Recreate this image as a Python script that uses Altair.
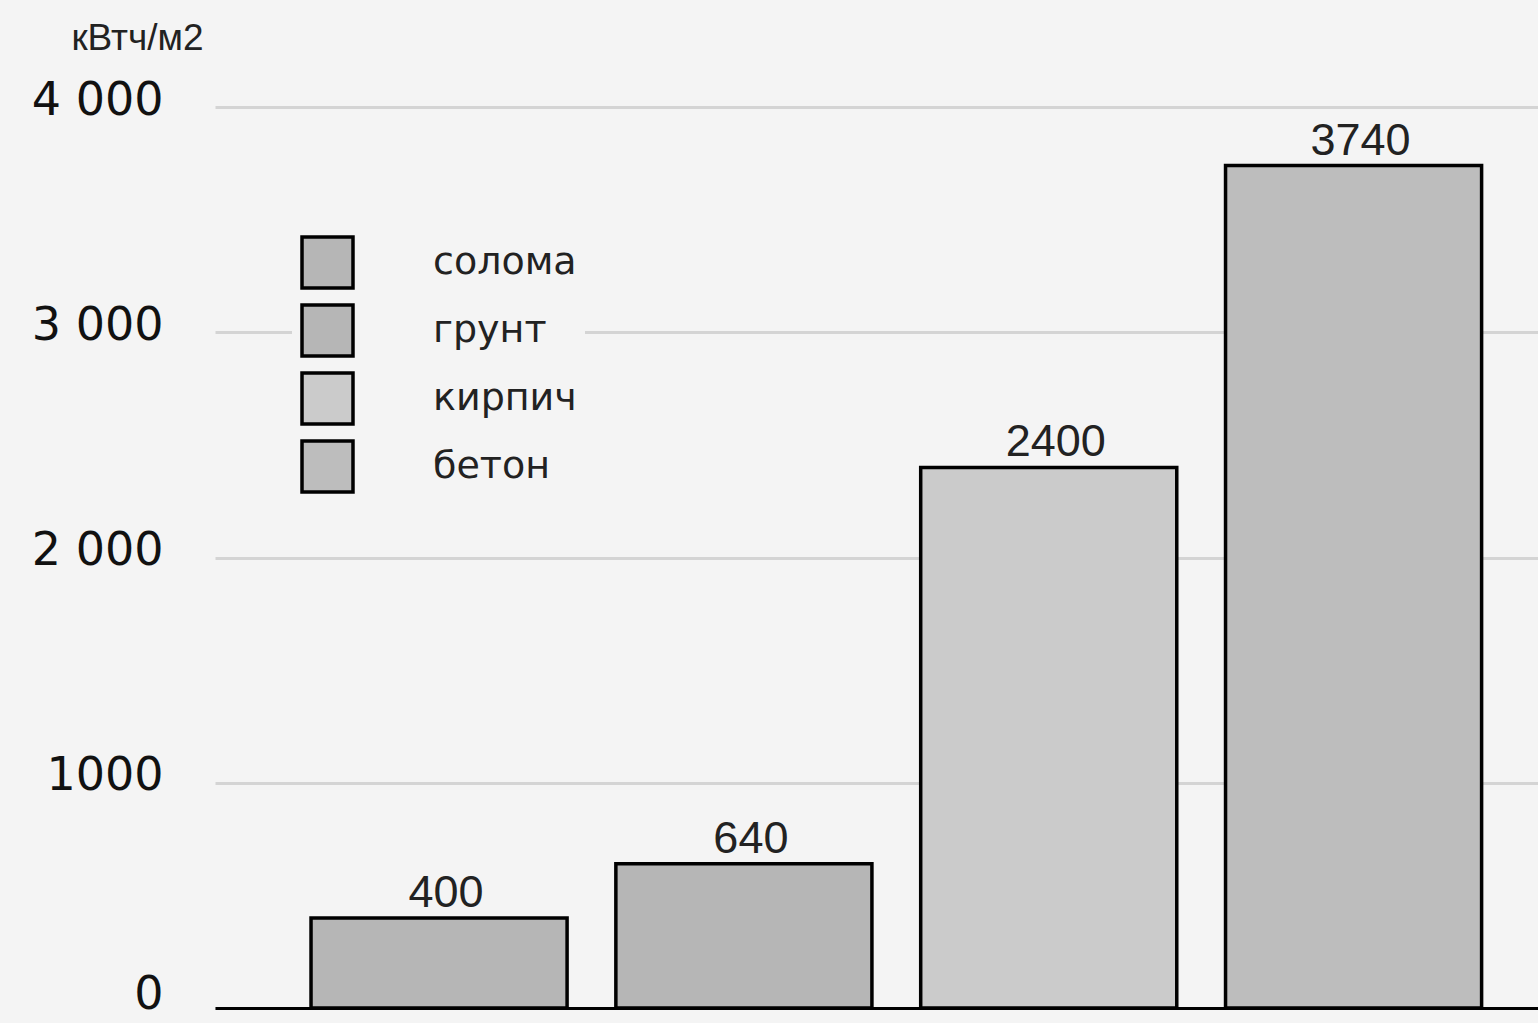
import altair as alt
import pandas as pd

materials = ["солома", "грунт", "кирпич", "бетон"]
values = [400, 640, 2400, 3740]
fills = ["#b6b6b6", "#b6b6b6", "#cbcbcb", "#bdbdbd"]
y_ticks = [0, 1000, 2000, 3000, 4000]
y_tick_labels = ["0", "1000", "2 000", "3 000", "4 000"]
unit_label = "кВтч/м2"

df = pd.DataFrame({"material": materials, "value": values})

label_expr = "''"
for v, lab in reversed(list(zip(y_ticks, y_tick_labels))):
    label_expr = f"datum.value == {v} ? '{lab}' : ({label_expr})"

BG = "#f4f4f4"

x_enc = alt.X(
    "material:N",
    sort=materials,
    scale=alt.Scale(paddingInner=0.16, paddingOuter=0.25, align=0.63),
    axis=alt.Axis(labels=False, ticks=False, title=None, domainColor="#000000",
                  domainWidth=3, grid=False),
)

bars = alt.Chart(df).mark_bar(stroke="#000000", strokeWidth=3.5).encode(
    x=x_enc,
    y=alt.Y(
        "value:Q",
        scale=alt.Scale(domain=[0, 4000], nice=False),
        axis=alt.Axis(
            values=y_ticks,
            labelExpr=label_expr,
            ticks=False,
            domain=False,
            grid=True,
            gridColor="#d4d4d4",
            gridWidth=3,
            labelFont="DejaVu Sans",
            labelFontSize=46,
            labelColor="#111111",
            labelPadding=52,
            labelOffset={"condition": {"test": "datum.value === 0", "value": -14}, "value": -7},
            title=unit_label,
            titleAngle=0,
            titleAlign="center",
            titleBaseline="middle",
            titleX=-78,
            titleY=-69,
            titleFont="Liberation Sans",
            titleFontSize=37,
            titleFontWeight="normal",
            titleColor="#222222",
        ),
    ),
    color=alt.Color(
        "material:N",
        sort=materials,
        scale=alt.Scale(domain=materials, range=fills),
        legend=alt.Legend(
            title=None,
            orient="none",
            legendX=77,
            legendY=120,
            symbolType="square",
            symbolSize=2600,
            symbolStrokeColor="#000000",
            symbolStrokeWidth=3.5,
            symbolOpacity=1,
            labelFont="DejaVu Sans",
            labelFontSize=38,
            labelColor="#222222",
            labelOffset=78,
            rowPadding=3,
            padding=8,
            fillColor=BG,
        ),
    ),
)

texts = alt.Chart(df).mark_text(
    baseline="alphabetic", align="center", dy=-11, dx=7,
    font="Liberation Sans", fontSize=45, color="#222222",
).encode(
    x=alt.X("material:N", sort=materials),
    y=alt.Y("value:Q"),
    text=alt.Text("value:Q"),
)

chart = alt.layer(bars, texts).properties(
    width=1323,
    height=901,
    background=BG,
    padding={"left": 215, "top": 107, "right": 0, "bottom": 15},
    autosize=alt.AutoSizeParams(type="none"),
).configure_view(stroke=None)

chart.save("out.html", embed_options={"renderer": "svg", "actions": False})
